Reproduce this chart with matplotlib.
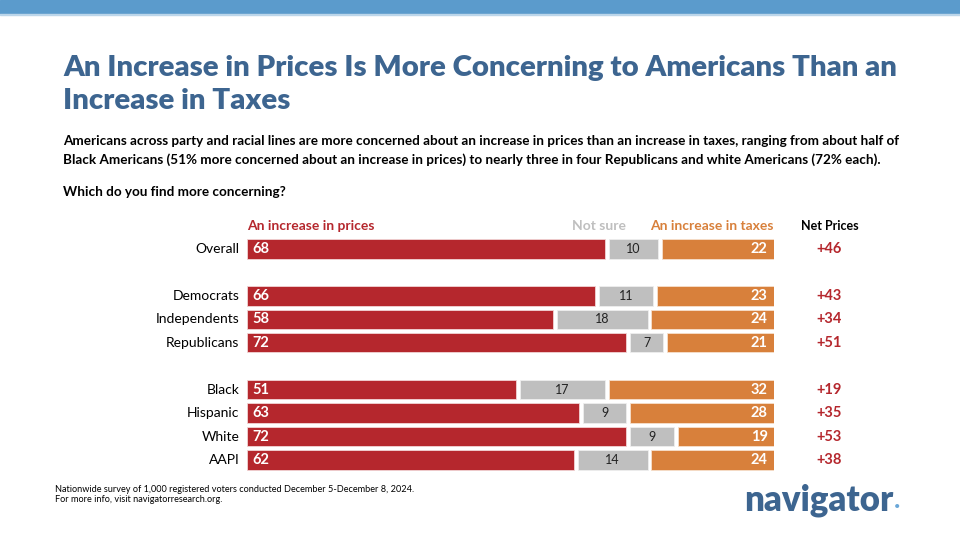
import matplotlib
matplotlib.use("Agg")
import matplotlib.pyplot as plt

# data
groups = ["Overall", "Democrats", "Independents", "Republicans",
          "Black", "Hispanic", "White", "AAPI"]
rows = [0, 2, 3, 4, 6, 7, 8, 9]
prices = [68, 66, 58, 72, 51, 63, 72, 62]
not_sure = [10, 11, 18, 7, 17, 9, 9, 14]
taxes = [22, 23, 24, 21, 32, 28, 19, 24]
net = ["+46", "+43", "+34", "+51", "+19", "+35", "+53", "+38"]

RED = "#b5272d"
GRAY = "#bfbfbf"
ORANGE = "#d8803b"
BLUE = "#3d6590"
FONT = "Lato"

W, H = 960, 540
fig = plt.figure(figsize=(9.6, 5.4), dpi=100)
fig.patch.set_facecolor("white")

def fx(px):
    return px / W

def fy(py):
    return 1 - py / H

# top banner
fig.patches.append(plt.Rectangle((0, fy(13)), 1, 13 / H, transform=fig.transFigure,
                                 color="#5b9bcc", zorder=0))
fig.patches.append(plt.Rectangle((0, fy(15)), 1, 1.5 / H, transform=fig.transFigure,
                                 color="#bcd6ea", zorder=0))

fig.text(fx(63), fy(68), "An Increase in Prices Is More Concerning to Americans Than an",
         fontsize=21.2, fontweight="heavy", color=BLUE, family=FONT, va="center")
fig.text(fx(63), fy(101), "Increase in Taxes",
         fontsize=21.2, fontweight="heavy", color=BLUE, family=FONT, va="center")
fig.text(fx(63), fy(141), "Americans across party and racial lines are more concerned about an increase in prices than an increase in taxes, ranging from about half of",
         fontsize=9.7, fontweight="bold", color="black", family=FONT, va="center")
fig.text(fx(63), fy(160), "Black Americans (51% more concerned about an increase in prices) to nearly three in four Republicans and white Americans (72% each).",
         fontsize=9.7, fontweight="bold", color="black", family=FONT, va="center")
fig.text(fx(63), fy(192), "Which do you find more concerning?",
         fontsize=9.7, fontweight="bold", color="black", family=FONT, va="center")

# bar axes: x in percent, y in rows
left_px, right_px = 247, 774
top_px, bot_px = 249 - 11.7, 460 + 11.7
ax = fig.add_axes([fx(left_px), fy(bot_px), fx(right_px - left_px), (bot_px - top_px) / H])
ax.set_xlim(0, 100)
ax.set_ylim(9.5, -0.5)
ax.axis("off")

gap = 0.75
h = 0.82
for r, p, n, t in zip(rows, prices, not_sure, taxes):
    ax.barh(r, p, left=0, height=h, color=RED, edgecolor="#f2d4d5", linewidth=0.6)
    ax.barh(r, n - gap, left=p + gap, height=h, color=GRAY, edgecolor="#eeeeee", linewidth=0.6)
    ax.barh(r, t - gap, left=p + n + gap, height=h, color=ORANGE, edgecolor="#f6e0cc", linewidth=0.6)
    ax.text(1.0, r, str(p), color="white", fontsize=10.5, fontweight="bold",
            family=FONT, ha="left", va="center")
    ax.text(p + gap + (n - gap) / 2, r, str(n), color="#222222", fontsize=9,
            family=FONT, ha="center", va="center")
    ax.text(98.8, r, str(t), color="white", fontsize=10.5, fontweight="bold",
            family=FONT, ha="right", va="center")

for r, g, s in zip(rows, groups, net):
    ax.text(-1.4, r, g, color="black", fontsize=10, family=FONT,
            ha="right", va="center")
    ax.text(110.5, r, s, color=RED, fontsize=10.5, fontweight="bold",
            family=FONT, ha="center", va="center")

# legend row
ax.text(0, -1.0, "An increase in prices", color=RED, fontsize=10, fontweight="bold",
        family=FONT, ha="left", va="center")
ax.text(72.0, -1.0, "Not sure", color=GRAY, fontsize=10, fontweight="bold",
        family=FONT, ha="right", va="center")
ax.text(100, -1.0, "An increase in taxes", color=ORANGE, fontsize=10, fontweight="bold",
        family=FONT, ha="right", va="center")
ax.text(110.5, -1.0, "Net Prices", color="black", fontsize=9, fontweight="bold",
        family=FONT, ha="center", va="center")

# footer
fig.text(fx(55), fy(489), "Nationwide survey of 1,000 registered voters conducted December 5-December 8, 2024.",
         fontsize=6.6, color="black", family=FONT, va="center")
fig.text(fx(55), fy(500), "For more info, visit navigatorresearch.org.",
         fontsize=6.6, color="black", family=FONT, va="center")
logo = fig.text(fx(744), fy(500), "navigator", fontsize=25, fontweight="heavy",
                color=BLUE, family=FONT, va="center")
fig.canvas.draw()
bb = logo.get_window_extent()
fig.text(bb.x1 / W + fx(1), fy(507), "\u2022", fontsize=8, color="#6aa7d8",
         family=FONT, va="center")

fig.savefig("out.png", dpi=100)
